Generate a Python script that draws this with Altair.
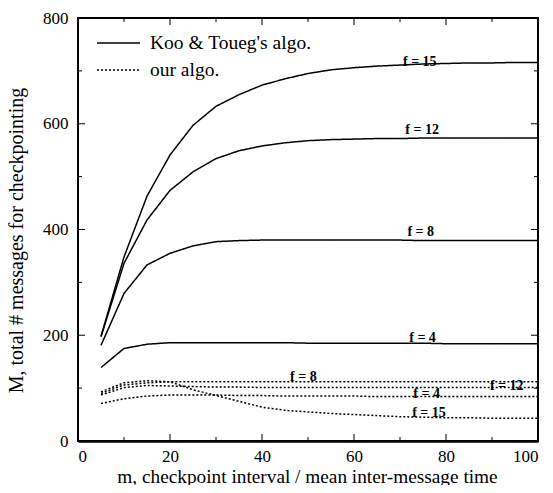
import altair as alt
import pandas as pd

# ---- data ----
m = [5, 10, 15, 20, 25, 30, 35, 40, 45, 50, 55, 60, 65, 70, 75, 80, 85, 90, 95, 100]

koo_f15 = [198, 348, 463, 541, 597, 633, 655, 673, 685, 695, 702, 706, 709, 711, 713, 714, 715, 715, 716, 716]
koo_f12 = [197, 336, 418, 474, 509, 534, 549, 558, 564, 568, 570, 571, 572, 572, 573, 573, 573, 573, 573, 573]
koo_f8 = [181, 279, 333, 355, 369, 377, 379, 380, 380, 380, 380, 380, 380, 380, 379, 379, 379, 379, 379, 379]
koo_f4 = [139, 175, 183, 186, 186, 186, 186, 186, 186, 185, 185, 185, 185, 185, 185, 184, 184, 184, 184, 184]

our_f15 = [93, 110, 114, 112, 97, 86, 75, 64, 58, 55, 52, 50, 48, 46, 45, 44, 44, 43, 43, 43]
our_f12 = [90, 106, 110, 112, 112, 112, 112, 112, 112, 112, 112, 112, 112, 112, 112, 112, 112, 112, 112, 112]
our_f8 = [87, 101, 105, 104, 103, 102, 102, 101, 101, 101, 101, 101, 101, 101, 101, 101, 101, 101, 101, 101]
our_f4 = [71, 80, 85, 87, 87, 87, 86, 86, 85, 85, 85, 85, 84, 84, 84, 84, 84, 84, 84, 84]

KOO = "Koo & Toueg's algo."
OUR = "our algo."

label_text = ["f = 15", "f = 12", "f = 8", "f = 4", "f = 8", "f = 4", "f = 12", "f = 15"]
label_m = [74.3, 74.8, 74.5, 74.9, 49.0, 75.8, 93.2, 76.3]
label_M = [710, 580, 388, 187, 114, 82, 97, 45]

x_major = [0, 20, 40, 60, 80, 100]
x_minor = [10, 30, 50, 70, 90]
y_major = [0, 200, 400, 600, 800]
y_minor = [100, 300, 500, 700]

# ---- build tables ----
rows = []
for algo, f, vals in [
    (KOO, 15, koo_f15), (KOO, 12, koo_f12), (KOO, 8, koo_f8), (KOO, 4, koo_f4),
    (OUR, 15, our_f15), (OUR, 12, our_f12), (OUR, 8, our_f8), (OUR, 4, our_f4),
]:
    for mi, v in zip(m, vals):
        rows.append({"algo": algo, "series": f"{algo} f={f}", "m": mi, "M": v})
df = pd.DataFrame(rows)
labels = pd.DataFrame({"text": label_text, "m": label_m, "M": label_M})

W, H = 460, 423
FONT = "Liberation Serif"

xscale = alt.Scale(domain=[0, 100], nice=False)
yscale = alt.Scale(domain=[0, 800], nice=False)

xaxis = alt.Axis(values=x_major, ticks=False, domain=True, domainColor="black", domainWidth=2.5, grid=False,
                 labelPadding=7, labelFontSize=17, labelFont=FONT, labelColor="black",
                 title="m, checkpoint interval / mean inter-message time",
                 titleFontSize=19.3, titleFont=FONT, titleFontWeight="normal", titleColor="black",
                 titleX=229, titleY=35, titleBaseline="middle", titleAlign="center")
yaxis = alt.Axis(values=y_major, ticks=False, domain=False, grid=False,
                 labelPadding=10, labelFontSize=17, labelFont=FONT, labelColor="black",
                 title="M, total # messages for checkpointing",
                 titleFontSize=20, titleFont=FONT, titleFontWeight="normal", titleColor="black",
                 titleX=-62, titleY=222, titleBaseline="middle", titleAlign="center", titleAngle=-90)

lines = alt.Chart(df).mark_line(color="black", strokeWidth=1.5).encode(
    x=alt.X("m:Q", scale=xscale, axis=xaxis),
    y=alt.Y("M:Q", scale=yscale, axis=yaxis),
    detail="series:N",
    strokeDash=alt.StrokeDash("algo:N", scale=alt.Scale(domain=[KOO, OUR], range=[[1, 0], [2, 2]]), legend=None),
)

text = alt.Chart(labels).mark_text(font=FONT, fontSize=14, fontWeight="bold", baseline="alphabetic",
                                   align="center", color="black").encode(
    x=alt.X("m:Q", scale=xscale), y=alt.Y("M:Q", scale=yscale), text="text:N")


def xticks(vals, length):
    d = pd.DataFrame({"v": vals})
    b = alt.Chart(d).mark_rule(color="black", strokeWidth=1).encode(
        x=alt.X("v:Q", scale=xscale), y=alt.value(H), y2=alt.value(H - length))
    t = alt.Chart(d).mark_rule(color="black", strokeWidth=1).encode(
        x=alt.X("v:Q", scale=xscale), y=alt.value(0), y2=alt.value(length))
    return [b, t]


def yticks(vals, length):
    d = pd.DataFrame({"v": vals})
    l = alt.Chart(d).mark_rule(color="black", strokeWidth=1).encode(
        y=alt.Y("v:Q", scale=yscale), x=alt.value(0), x2=alt.value(length))
    r = alt.Chart(d).mark_rule(color="black", strokeWidth=1).encode(
        y=alt.Y("v:Q", scale=yscale), x=alt.value(W), x2=alt.value(W - length))
    return [l, r]


tick_layers = xticks(x_major, 7) + xticks(x_minor, 4) + yticks(y_major, 7) + yticks(y_minor, 4)

one = pd.DataFrame({"a": [0]})
leg1 = alt.Chart(one).mark_rule(color="black", strokeWidth=1.5).encode(
    x=alt.value(19), x2=alt.value(62), y=alt.value(25))
leg2 = alt.Chart(one).mark_rule(color="black", strokeWidth=1.5, strokeDash=[2, 2]).encode(
    x=alt.value(19), x2=alt.value(62), y=alt.value(52))
legt1 = alt.Chart(one).mark_text(font=FONT, fontSize=19.5, align="left", baseline="middle", color="black").encode(
    x=alt.value(72), y=alt.value(25), text=alt.value(KOO))
legt2 = alt.Chart(one).mark_text(font=FONT, fontSize=19.5, align="left", baseline="middle", color="black").encode(
    x=alt.value(72), y=alt.value(52), text=alt.value(OUR))

chart = alt.layer(lines, text, *tick_layers, leg1, leg2, legt1, legt2).properties(
    width=W, height=H,
    autosize=alt.AutoSizeParams(type="none"),
    padding={"left": 70, "top": 10, "right": 7, "bottom": 44},
    background="white",
).configure_view(stroke="black", strokeWidth=2)

chart.save("out.html", embed_options={"renderer": "svg", "actions": False})
